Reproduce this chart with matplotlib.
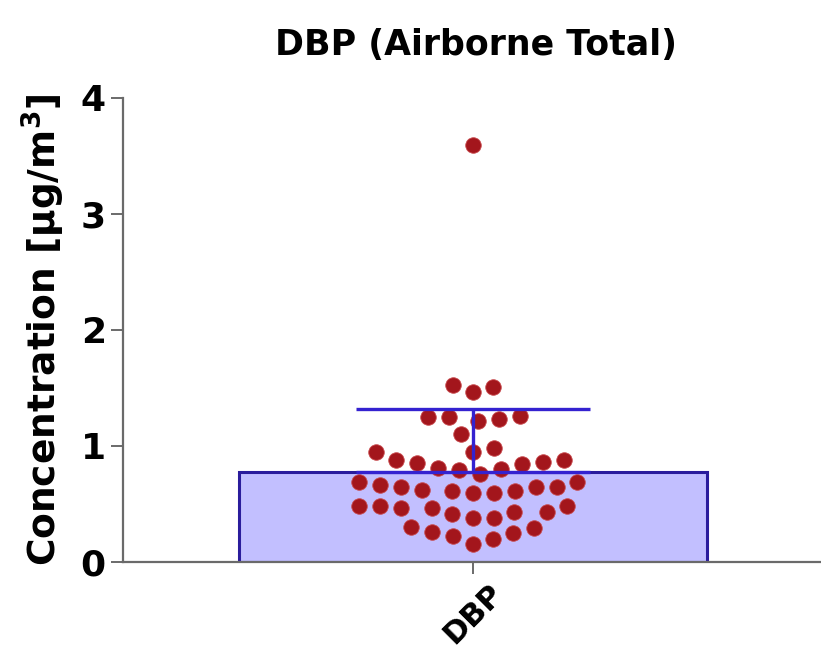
import numpy as np
import matplotlib
matplotlib.use("Agg")
import matplotlib.pyplot as plt

# DBP airborne total concentrations, one value per sample (ug/m3)
CATEGORY = "DBP"
VALUES = [3.59,
          1.52, 1.46, 1.51,
          1.25, 1.23, 1.21, 1.25, 1.26,
          1.10, 0.98,
          0.95, 0.88, 0.86, 0.84, 0.80, 0.79, 0.81, 0.85, 0.88, 0.95, 0.76,
          0.69, 0.66, 0.64, 0.62, 0.61, 0.59, 0.59, 0.61, 0.64, 0.64, 0.69,
          0.48, 0.48, 0.46, 0.43, 0.38, 0.38, 0.41, 0.43, 0.46, 0.48,
          0.30, 0.26, 0.22, 0.15, 0.20, 0.25, 0.29]
YTICKS = [0, 1, 2, 3, 4]

BAR_FILL = "#c2bfff"
BAR_EDGE = "#2a1c9c"
ERR_COLOR = "#3422d0"
DOT_COLOR = "#a3161c"
AXIS_COLOR = "#6a6a6a"


def beeswarm(ax, x0, values, spacing):
    "Spread points sideways (in pixels) so none of them overlap."
    trans = ax.transData
    ypix = trans.transform(np.column_stack([np.zeros(len(values)), values]))[:, 1]
    x0pix = trans.transform([[x0, 0]])[0, 0]
    placed = []
    xs = np.zeros(len(values))
    for i in np.argsort(values):
        candidates = np.arange(0, 400, 1.0)
        candidates = np.ravel(np.column_stack([candidates, -candidates]))
        for c in candidates:
            if all((c - px) ** 2 + (ypix[i] - py) ** 2 >= spacing ** 2 for px, py in placed):
                placed.append((c, ypix[i]))
                xs[i] = c
                break
    inv = trans.inverted()
    pts = inv.transform(np.column_stack([x0pix + xs, ypix]))
    return pts[:, 0]


def main():
    values = np.array(VALUES)
    mean = values.mean()
    sd = values.std(ddof=1)

    fig = plt.figure(figsize=(8.21, 6.64), dpi=100)
    ax = fig.add_axes([0.150, 0.154, 0.850, 0.699])
    ax.set_xlim(-0.748, 0.744)
    ax.set_ylim(0, 4)

    # mean bar with the upper standard deviation
    ax.bar([0], [mean], width=1.0, color=BAR_FILL, edgecolor=BAR_EDGE,
           linewidth=2.2, zorder=1)

    # individual samples as a swarm
    xs = beeswarm(ax, 0, values, 20.8)
    ax.scatter(xs, values, s=125, color=DOT_COLOR, edgecolor="#c8484c",
               linewidth=0.6, zorder=2)

    ax.errorbar([0], [mean], yerr=[[0], [sd]], fmt="none", ecolor=ERR_COLOR,
                elinewidth=2.4, capsize=84, capthick=2.4, zorder=3)

    # axis styling
    for side in ("top", "right"):
        ax.spines[side].set_visible(False)
    for side in ("left", "bottom"):
        ax.spines[side].set_color(AXIS_COLOR)
        ax.spines[side].set_linewidth(1.6)
    ax.tick_params(axis="both", colors=AXIS_COLOR, width=1.4, length=8.5,
                   labelcolor="black", pad=4)
    ax.set_yticks(YTICKS)
    ax.set_yticklabels([str(t) for t in YTICKS], fontsize=26, fontweight="bold")
    ax.set_xticks([0])
    ax.set_xticklabels([CATEGORY], fontsize=22, fontweight="bold", rotation=45,
                       ha="center")

    ax.set_ylabel(r"Concentration [µg/m$^{\mathbf{3}}$]", fontsize=27,
                  fontweight="bold", labelpad=10)
    fig.text(0.58, 0.932, "DBP (Airborne Total)", fontsize=25, fontweight="bold",
             ha="center", va="center")

    fig.savefig("out.png", dpi=100)


if __name__ == "__main__":
    main()
